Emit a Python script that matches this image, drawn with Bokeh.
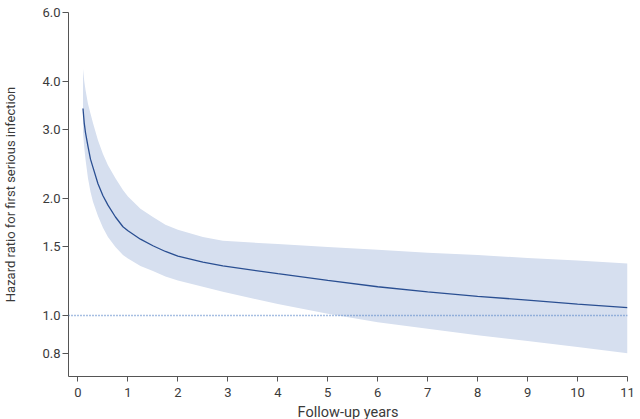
from bokeh.plotting import figure
from bokeh.models import FixedTicker, PrintfTickFormatter, Span
from bokeh.embed import file_html
from bokeh.resources import INLINE

# Data
years = [0.1, 0.125, 0.15, 0.2, 0.25, 0.3, 0.4, 0.5, 0.6, 0.75, 0.9, 1.0, 1.25, 1.5, 1.75,
         2.0, 2.5, 2.9, 4, 5, 6, 7, 8, 9, 10, 11]
hazard_ratio = [3.40, 3.12, 2.95, 2.72, 2.52, 2.40, 2.18, 2.03, 1.92, 1.79, 1.69, 1.65, 1.57, 1.51, 1.46,
                1.42, 1.37, 1.34, 1.28, 1.23, 1.185, 1.15, 1.12, 1.095, 1.07, 1.047]
upper_ci = [4.30, 4.00, 3.80, 3.50, 3.30, 3.12, 2.82, 2.60, 2.43, 2.25, 2.10, 2.02, 1.88, 1.79, 1.71,
            1.66, 1.59, 1.555, 1.525, 1.50, 1.475, 1.45, 1.43, 1.405, 1.385, 1.36]
lower_ci = [2.95, 2.70, 2.52, 2.25, 2.08, 1.96, 1.80, 1.68, 1.59, 1.50, 1.43, 1.40, 1.34, 1.30, 1.26,
            1.23, 1.185, 1.15, 1.07, 1.01, 0.96, 0.925, 0.89, 0.86, 0.83, 0.80]

x_ticks = [0, 1, 2, 3, 4, 5, 6, 7, 8, 9, 10, 11]
y_ticks = [0.8, 1.0, 1.5, 2.0, 3.0, 4.0, 6.0]
reference_hr = 1.0

FONT = "Roboto"
TEXT = "#3a3a3a"
AXIS = "#555555"

p = figure(frame_width=559, frame_height=364, y_axis_type="log",
           x_range=(-0.19, 11.0), y_range=(0.697, 6.0),
           output_backend="svg", toolbar_location=None,
           min_border_left=68, min_border_right=10,
           min_border_top=12, min_border_bottom=36)

p.varea(x=years, y1=lower_ci, y2=upper_ci, fill_color="#d6dfef", fill_alpha=1.0)
p.line(x=years, y=hazard_ratio, line_color="#2a4f92", line_width=1.3)
p.add_layout(Span(location=reference_hr, dimension="width",
                  line_color="#4f7fc4", line_width=1.5, line_dash="1 2"))

p.xgrid.visible = False
p.ygrid.visible = False
p.outline_line_color = None

p.xaxis.ticker = FixedTicker(ticks=x_ticks)
p.yaxis.ticker = FixedTicker(ticks=y_ticks)
p.yaxis.formatter = PrintfTickFormatter(format="%.1f")

for ax in (p.xaxis, p.yaxis):
    ax.axis_line_color = AXIS
    ax.major_tick_line_color = AXIS
    ax.minor_tick_line_color = None
    ax.major_tick_in = 0
    ax.major_tick_out = 6
    ax.major_label_text_font = FONT
    ax.major_label_text_font_size = "13px"
    ax.major_label_text_color = TEXT
    ax.axis_label_text_font = FONT
    ax.axis_label_text_font_size = "13px"
    ax.axis_label_text_font_style = "normal"
    ax.axis_label_text_color = TEXT

p.xaxis.major_tick_out = 5
p.xaxis.axis_label = "Follow-up years"
p.xaxis.axis_label_text_font_size = "14.5px"
p.yaxis.axis_label = "Hazard ratio for first serious infection"
p.xaxis.major_label_standoff = 6
p.xaxis.axis_label_standoff = 4
p.yaxis.major_label_standoff = 2
p.yaxis.axis_label_standoff = 21

open("out.html", "w").write(file_html(p, INLINE))
